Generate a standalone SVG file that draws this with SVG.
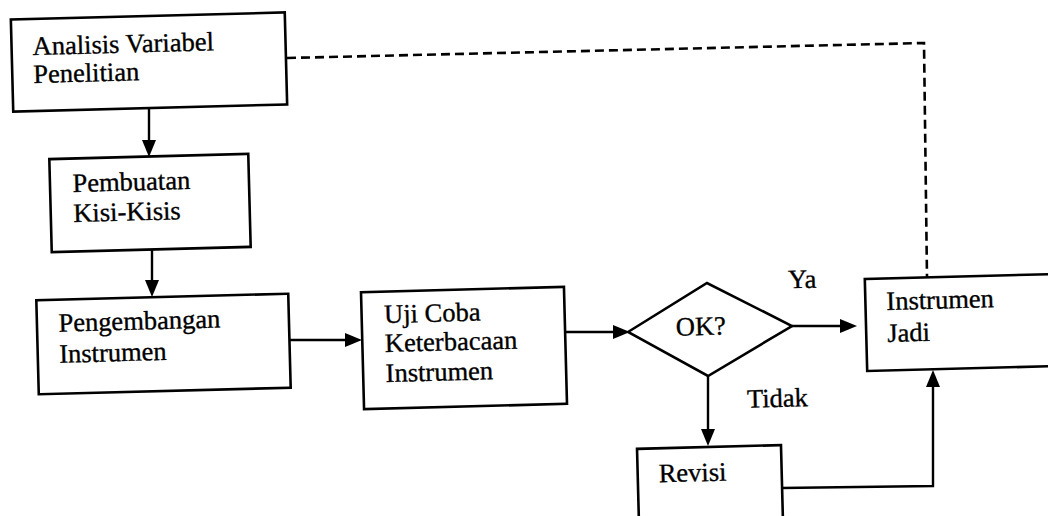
<svg xmlns="http://www.w3.org/2000/svg" width="1048" height="516" viewBox="0 0 1048 516">
  <style>
    .box { fill: #ffffff; stroke: #000000; stroke-width: 2.6; }
    .lbl { font-family: "Liberation Serif", "Times New Roman", serif; font-size: 26.5px; fill: #000000; stroke: #000000; stroke-width: 0.35; }
    .conn { fill: none; stroke: #000000; stroke-width: 2.4; }
    .dash { fill: none; stroke: #000000; stroke-width: 2.6; stroke-dasharray: 9 5; }
  </style>
  <defs>
    <marker id="arrow" viewBox="0 0 17 14" refX="11" refY="7" markerWidth="17" markerHeight="14" markerUnits="userSpaceOnUse" orient="auto">
      <path d="M0,0 L17,7 L0,14 z" fill="#000000"/>
    </marker>
  </defs>
  <rect width="1048" height="516" fill="#ffffff"/>

  <g id="connectors">
    <line class="conn" x1="149" y1="108" x2="149" y2="151" marker-end="url(#arrow)"/>
    <line class="conn" x1="152" y1="250" x2="152" y2="291" marker-end="url(#arrow)"/>
    <line class="conn" x1="290" y1="340" x2="356" y2="340" marker-end="url(#arrow)"/>
    <line class="conn" x1="566" y1="332" x2="624" y2="332" marker-end="url(#arrow)"/>
    <line class="conn" x1="792" y1="326" x2="851" y2="326" marker-end="url(#arrow)"/>
    <line class="conn" x1="708" y1="376" x2="708" y2="440" marker-end="url(#arrow)"/>
    <polyline class="conn" points="781,488 933,486 933,376" marker-end="url(#arrow)"/>
    <polyline class="dash" points="287,58 924,43 927,278"/>
  </g>

  <g id="node-analisis" transform="rotate(-1.5 149 62)">
    <rect class="box" x="12" y="16" width="274" height="92"/>
    <text class="lbl" x="33" y="52">Analisis Variabel</text>
    <text class="lbl" x="33" y="80">Penelitian</text>
  </g>

  <g id="node-pembuatan" transform="rotate(-1.5 150 203)">
    <rect class="box" x="50.5" y="156.5" width="199" height="93"/>
    <text class="lbl" x="73" y="190">Pembuatan</text>
    <text class="lbl" x="73" y="220">Kisi-Kisis</text>
  </g>

  <g id="node-pengembangan" transform="rotate(-1.5 163.5 344)">
    <rect class="box" x="37.5" y="297" width="252" height="94"/>
    <text class="lbl" x="59" y="329">Pengembangan</text>
    <text class="lbl" x="59" y="360">Instrumen</text>
  </g>

  <g id="node-ujicoba" transform="rotate(-1.5 464 348)">
    <rect class="box" x="362.5" y="289.5" width="203" height="117"/>
    <text class="lbl" x="385" y="321">Uji Coba</text>
    <text class="lbl" x="385" y="350">Keterbacaan</text>
    <text class="lbl" x="385" y="380">Instrumen</text>
  </g>

  <g id="node-ok">
    <polygon class="box" points="628,332 707,283 792,326 708,376"/>
    <text class="lbl" x="701" y="335" text-anchor="middle" transform="rotate(-1.5 701 330)">OK?</text>
  </g>

  <g id="label-ya">
    <text class="lbl" x="788" y="288" transform="rotate(-1.5 800 280)">Ya</text>
  </g>
  <g id="label-tidak">
    <text class="lbl" x="747" y="407" transform="rotate(-1.5 775 400)">Tidak</text>
  </g>

  <g id="node-instrumen-jadi" transform="rotate(-1.5 866 325)">
    <rect class="box" x="866" y="279" width="200" height="92"/>
    <text class="lbl" x="887" y="310.5">Instrumen</text>
    <text class="lbl" x="887" y="342.5">Jadi</text>
  </g>

  <g id="node-revisi" transform="rotate(-1.5 709 447)">
    <rect class="box" x="637" y="447" width="144" height="100"/>
    <text class="lbl" x="658" y="481">Revisi</text>
  </g>
</svg>
